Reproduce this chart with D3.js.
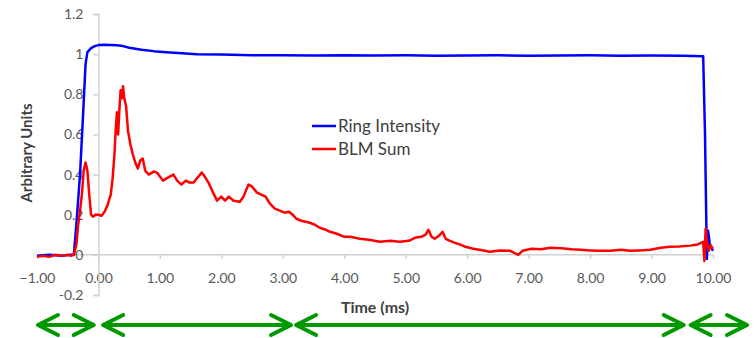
<!DOCTYPE html>
<html>
<head>
<meta charset="utf-8">
<script src="https://cdn.jsdelivr.net/npm/d3@7"></script>
<style>
  body { margin: 0; background: #fff; }
  svg text { font-family: Lato, "Open Sans", sans-serif; }
</style>
</head>
<body>
<div class="chart"></div>
<script>
// Ring Intensity (blue)
var ringTime  = [-1.0, -0.8, -0.6, -0.45, -0.4, -0.36, -0.3, -0.25, -0.21, -0.18, -0.12, -0.06, 0.0, 0.1, 0.2, 0.3, 0.4, 0.5, 0.7, 0.9, 1.1, 1.3, 1.6, 2.0, 2.5, 3.0, 3.5, 4.0, 4.5, 5.0, 5.5, 6.0, 6.5, 7.0, 7.5, 8.0, 8.5, 9.0, 9.5, 9.84, 9.87, 9.9, 9.92, 9.95, 10.0];
var ringValue = [-0.005, 0.0, -0.005, 0.0, 0.0, 0.15, 0.4, 0.7, 0.95, 1.01, 1.03, 1.04, 1.045, 1.047, 1.046, 1.044, 1.04, 1.032, 1.022, 1.015, 1.01, 1.006, 1.0, 0.998, 0.995, 0.994, 0.993, 0.995, 0.993, 0.994, 0.992, 0.993, 0.994, 0.992, 0.993, 0.994, 0.992, 0.993, 0.992, 0.99, 0.6, -0.02, 0.12, 0.05, 0.02];

// BLM Sum (red)
var blmTime  = [-1.0, -0.9, -0.8, -0.7, -0.6, -0.5, -0.45, -0.4, -0.36, -0.33, -0.3, -0.27, -0.24, -0.21, -0.18, -0.15, -0.12, -0.09, -0.05, 0.0, 0.05, 0.1, 0.15, 0.2, 0.23, 0.26, 0.28, 0.3, 0.32, 0.34, 0.36, 0.38, 0.4, 0.42, 0.45, 0.48, 0.52, 0.56, 0.6, 0.64, 0.68, 0.72, 0.76, 0.82, 0.9, 0.95, 1.0, 1.05, 1.1, 1.16, 1.22, 1.28, 1.35, 1.42, 1.48, 1.55, 1.6, 1.68, 1.73, 1.79, 1.85, 1.93, 2.0, 2.06, 2.12, 2.2, 2.3, 2.36, 2.44, 2.5, 2.58, 2.65, 2.72, 2.79, 2.87, 2.95, 3.03, 3.1, 3.16, 3.22, 3.3, 3.44, 3.52, 3.6, 3.7, 3.77, 3.88, 4.0, 4.1, 4.25, 4.4, 4.58, 4.75, 4.9, 5.05, 5.15, 5.25, 5.32, 5.37, 5.42, 5.47, 5.54, 5.6, 5.65, 5.72, 5.8, 5.9, 5.97, 6.1, 6.2, 6.37, 6.53, 6.7, 6.83, 6.9, 7.05, 7.2, 7.35, 7.53, 7.7, 7.85, 8.0, 8.15, 8.33, 8.5, 8.65, 8.8, 8.98, 9.15, 9.3, 9.45, 9.63, 9.75, 9.84, 9.86, 9.88, 9.9, 9.93, 9.96, 10.0];
var blmValue = [-0.01, -0.005, -0.01, 0.0, -0.005, 0.0, -0.005, 0.0, 0.05, 0.15, 0.22, 0.3, 0.42, 0.46, 0.42, 0.3, 0.2, 0.19, 0.2, 0.2, 0.195, 0.215, 0.25, 0.3, 0.38, 0.5, 0.62, 0.71, 0.6, 0.72, 0.82, 0.78, 0.84, 0.78, 0.74, 0.62, 0.55, 0.5, 0.46, 0.43, 0.47, 0.48, 0.42, 0.4, 0.415, 0.41, 0.39, 0.37, 0.38, 0.39, 0.4, 0.37, 0.35, 0.37, 0.36, 0.36, 0.38, 0.41, 0.39, 0.36, 0.32, 0.27, 0.29, 0.27, 0.29, 0.27, 0.265, 0.29, 0.35, 0.34, 0.31, 0.3, 0.29, 0.255, 0.23, 0.22, 0.21, 0.215, 0.2, 0.18, 0.17, 0.16, 0.15, 0.135, 0.125, 0.115, 0.105, 0.09, 0.09, 0.08, 0.075, 0.065, 0.07, 0.065, 0.07, 0.085, 0.09, 0.1, 0.125, 0.09, 0.08, 0.095, 0.115, 0.08, 0.07, 0.06, 0.05, 0.04, 0.03, 0.025, 0.015, 0.022, 0.02, 0.0, 0.02, 0.03, 0.028, 0.035, 0.033, 0.028, 0.025, 0.022, 0.02, 0.02, 0.025, 0.02, 0.022, 0.025, 0.035, 0.04, 0.042, 0.046, 0.052, 0.065, -0.03, 0.13, 0.06, 0.02, 0.05, 0.03];

var xTicks = [-1, 0, 1, 2, 3, 4, 5, 6, 7, 8, 9, 10];
var yTicks = [-0.2, 0, 0.2, 0.4, 0.6, 0.8, 1, 1.2];
var yTickLabels = ["-0.2", "0", "0.2", "0.4", "0.6", "0.8", "1", "1.2"];
var seriesNames = ["Ring Intensity", "BLM Sum"];
var seriesColors = ["#0000ff", "#ff0000"];

// phase arrows below the chart, in ms
var arrowStart = [-1.0, 0.06, 3.2, 9.62];
var arrowEnd   = [-0.06, 3.15, 9.54, 10.57];

var width = 754, height = 338;

var x = d3.scaleLinear().domain([-1, 10]).range([37, 713]);
var y = d3.scaleLinear().domain([-0.2, 1.2]).range([295, 14]);

var svg = d3.select('.chart').append('svg')
  .attr('width', width)
  .attr('height', height);

// x axis, crossing at y = 0
var xAxis = svg.append('g')
  .attr('transform', 'translate(0,' + y(0) + ')')
  .call(d3.axisBottom(x).tickValues(xTicks).tickSize(4).tickPadding(14)
    .tickFormat(d3.format('.2f')));

// y axis, crossing at x = 0
var yAxis = svg.append('g')
  .attr('transform', 'translate(' + x(0) + ',0)')
  .call(d3.axisLeft(y).tickValues(yTicks).tickSize(5).tickPadding(10)
    .tickFormat(function(d, i) { return yTickLabels[i]; }));

[xAxis, yAxis].forEach(function(g) {
  g.select('.domain').attr('stroke', '#d0d0d0').attr('stroke-width', 1.5);
  g.selectAll('.tick line').attr('stroke', '#d0d0d0').attr('stroke-width', 1.5);
  g.selectAll('.tick text').attr('fill', '#595959').style('font-size', '14px')
    .style('font-family', 'Lato, sans-serif');
});
xAxis.select('.domain').attr('d', 'M' + x(-1) + ',0H' + x(10));

// lines
var line = d3.line()
  .x(function(d) { return x(d[0]); })
  .y(function(d) { return y(d[1]); });

var ring = ringTime.map(function(t, i) { return [t, ringValue[i]]; });
var blm = blmTime.map(function(t, i) { return [t, blmValue[i]]; });

svg.append('path')
  .datum(ring)
  .attr('fill', 'none')
  .attr('stroke', seriesColors[0])
  .attr('stroke-width', 2.5)
  .attr('stroke-linejoin', 'round')
  .attr('d', line);

svg.append('path')
  .datum(blm)
  .attr('fill', 'none')
  .attr('stroke', seriesColors[1])
  .attr('stroke-width', 2.5)
  .attr('stroke-linejoin', 'round')
  .attr('d', line);

// legend
var legend = svg.append('g').attr('transform', 'translate(312,126)');
seriesNames.forEach(function(name, i) {
  var row = legend.append('g').attr('transform', 'translate(0,' + (i * 23) + ')');
  row.append('line')
    .attr('x1', 0).attr('x2', 24)
    .attr('stroke', seriesColors[i]).attr('stroke-width', 2.5);
  row.append('text')
    .attr('x', 26).attr('y', 6)
    .attr('fill', '#404040')
    .style('font-size', '17px')
    .text(name);
});

// axis titles
svg.append('text')
  .attr('transform', 'translate(32,153) rotate(-90)')
  .attr('text-anchor', 'middle')
  .attr('fill', '#404040')
  .style('font-size', '15px')
  .style('font-weight', 'bold')
  .text('Arbitrary Units');

svg.append('text')
  .attr('x', 375).attr('y', 313)
  .attr('text-anchor', 'middle')
  .attr('fill', '#404040')
  .style('font-size', '16px')
  .style('font-weight', 'bold')
  .text('Time (ms)');

// green double-headed arrows
var arrowY = 325;
var green = '#009900';
arrowStart.forEach(function(s, i) {
  var x0 = x(s), x1 = x(arrowEnd[i]);
  var g = svg.append('g')
    .attr('stroke', green)
    .attr('stroke-width', 4)
    .attr('fill', 'none')
    .attr('stroke-linecap', 'round')
    .attr('stroke-linejoin', 'round');
  g.append('line')
    .attr('x1', x0 + 2).attr('x2', x1 - 2)
    .attr('y1', arrowY).attr('y2', arrowY);
  g.append('path')
    .attr('d', 'M' + (x0 + 21) + ',' + (arrowY - 10) + 'L' + (x0 + 1) + ',' + arrowY + 'L' + (x0 + 21) + ',' + (arrowY + 10));
  g.append('path')
    .attr('d', 'M' + (x1 - 21) + ',' + (arrowY - 10) + 'L' + (x1 - 1) + ',' + arrowY + 'L' + (x1 - 21) + ',' + (arrowY + 10));
});
</script>
</body>
</html>
